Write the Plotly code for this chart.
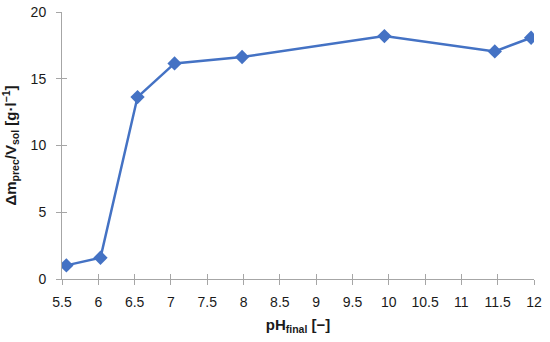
import plotly.graph_objects as go

ph_final = [5.56, 6.03, 6.54, 7.05, 7.98, 9.94, 11.46, 11.96]
dm_per_v = [1.02, 1.59, 13.63, 16.15, 16.63, 18.2, 17.05, 18.07]

FONT = "Liberation Sans, Arial, sans-serif"
X_RANGE = [5.5, 12]
Y_RANGE = [0, 20]

fig = go.Figure()
# invisible copy on the overlay axes so their inner tick halves get drawn
fig.add_trace(go.Scatter(
    x=ph_final, y=dm_per_v, xaxis="x2", yaxis="y2", mode="markers",
    marker=dict(opacity=0), hoverinfo="skip", showlegend=False,
))
fig.add_trace(go.Scatter(
    x=ph_final, y=dm_per_v, mode="lines+markers",
    line=dict(color="#4472C4", width=2.5),
    marker=dict(symbol="diamond", size=11, color="#4472C4"),
    showlegend=False,
))

axis_common = dict(
    showgrid=False, zeroline=False, showline=True, linecolor="#A6A6A6", linewidth=1,
    ticks="outside", tickcolor="#A6A6A6", ticklen=5, automargin=False,
    tickfont=dict(family=FONT, size=14, color="#1a1a1a"),
)

fig.update_layout(
    xaxis=dict(
        range=X_RANGE, dtick=0.5, tick0=5.5, ticklabelstandoff=5,
        title=dict(text="<b>pH<sub>final</sub> [−]</b>", font=dict(family=FONT, size=15, color="#1a1a1a"), standoff=10),
        **axis_common,
    ),
    yaxis=dict(
        range=Y_RANGE, dtick=5, ticklabelstandoff=7,
        title=dict(text="<b>Δm<sub>prec</sub>/V<sub>sol</sub> [g·l<sup>−1</sup>]</b>", font=dict(family=FONT, size=15, color="#1a1a1a"), standoff=10),
        **axis_common,
    ),
    # inner halves of the crossing tick marks
    xaxis2=dict(overlaying="x", range=X_RANGE, dtick=0.5, tick0=5.5, side="bottom", anchor="y2",
                ticks="inside", ticklen=5, tickcolor="#A6A6A6", showticklabels=False,
                showgrid=False, zeroline=False, showline=False, automargin=False),
    yaxis2=dict(overlaying="y", range=Y_RANGE, dtick=5, side="left", anchor="x2",
                ticks="inside", ticklen=5, tickcolor="#A6A6A6", showticklabels=False,
                showgrid=False, zeroline=False, showline=False, automargin=False),
    width=550, height=342,
    margin=dict(l=62, r=16, t=12, b=63),
    paper_bgcolor="white", plot_bgcolor="white",
)

fig.write_html("out.html", config={"displayModeBar": False},
               post_script="document.body.style.margin='0';document.body.style.overflow='hidden';")
